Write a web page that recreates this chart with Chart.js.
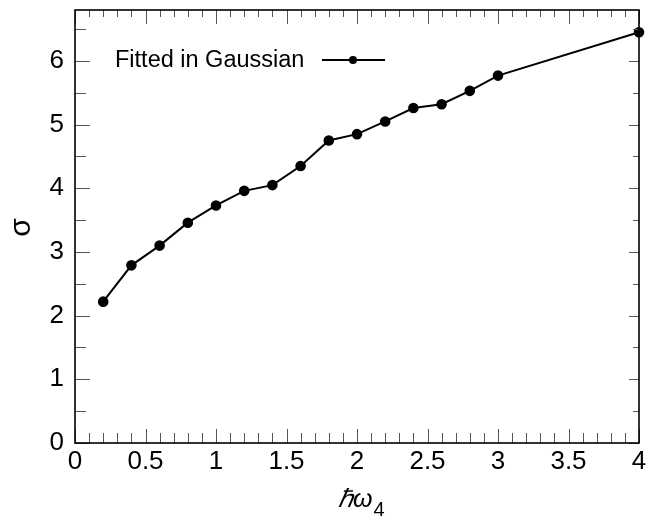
<!DOCTYPE html>
<html><head><meta charset="utf-8">
<script src="https://cdn.jsdelivr.net/npm/chart.js@4"></script>
<style>html,body{margin:0;padding:0;background:#fff}</style>
</head><body>
<canvas id="c" width="649" height="519" style="width:649px;height:519px;display:block"></canvas>
<script>
const xValues = [0.2, 0.4, 0.6, 0.8, 1.0, 1.2, 1.4, 1.6, 1.8, 2.0, 2.2, 2.4, 2.6, 2.8, 3.0, 4.0];
const sigmaValues = [2.22, 2.79, 3.10, 3.46, 3.73, 3.96, 4.05, 4.35, 4.75, 4.85, 5.05, 5.26, 5.32, 5.53, 5.77, 6.45];
const xTickLabels = ['0', '0.5', '1', '1.5', '2', '2.5', '3', '3.5', '4'];
const yTickLabels = ['0', '1', '2', '3', '4', '5', '6'];
const seriesName = 'Fitted in Gaussian';
const xTitleMain = 'ℏω';
const xTitleSub = '4';
const yTitle = 'σ';

const FONT = '"Liberation Sans", Arial, Helvetica, sans-serif';

const framePlugin = {
  id: 'frame',
  afterDatasetsDraw(chart) {
    const ctx = chart.ctx, a = chart.chartArea;
    const xs = chart.scales.x, ys = chart.scales.y;
    ctx.save();
    ctx.strokeStyle = '#555';
    ctx.lineWidth = 1;
    for (let i = 0; i <= 40; i++) {
      const v = i / 10;
      const px = Math.round(xs.getPixelForValue(v)) + 0.5;
      const major = i % 5 === 0;
      const lb = major ? 14 : 10, lt = major ? 14 : 7;
      ctx.beginPath();
      ctx.moveTo(px, a.bottom); ctx.lineTo(px, a.bottom - lb);
      ctx.moveTo(px, a.top); ctx.lineTo(px, a.top + lt);
      ctx.stroke();
    }
    for (let i = 0; i <= 13; i++) {
      const v = i / 2;
      const py = Math.round(ys.getPixelForValue(v)) + 0.5;
      const major = i % 2 === 0;
      const ll = major ? 15 : 11, lr = major ? 10 : 6;
      ctx.beginPath();
      ctx.moveTo(a.left, py); ctx.lineTo(a.left + ll, py);
      ctx.moveTo(a.right, py); ctx.lineTo(a.right - lr, py);
      ctx.stroke();
    }
    ctx.strokeStyle = '#000';
    ctx.lineWidth = 1.6;
    ctx.strokeRect(a.left, a.top, a.right - a.left, a.bottom - a.top);

    // legend
    const ly = ys.getPixelForValue(6) - 1;
    ctx.fillStyle = '#000';
    ctx.font = '23.5px ' + FONT;
    ctx.textBaseline = 'middle';
    ctx.textAlign = 'left';
    ctx.fillText(seriesName, a.left + 40, ly + 1);
    ctx.lineWidth = 2;
    ctx.beginPath();
    ctx.moveTo(a.left + 247, ly); ctx.lineTo(a.left + 310, ly);
    ctx.stroke();
    ctx.beginPath();
    ctx.arc(a.left + 278, ly, 4, 0, Math.PI * 2);
    ctx.fill();

    // axis titles
    ctx.textBaseline = 'alphabetic';
    ctx.font = 'italic 25px ' + FONT;
    const mx = 338, my = 507;
    ctx.fillText(xTitleMain, mx, my);
    const w = ctx.measureText(xTitleMain).width;
    ctx.font = '20px ' + FONT;
    ctx.fillText(xTitleSub, mx + w + 1, my + 9);

    ctx.translate(30, 227.5);
    ctx.rotate(-Math.PI / 2);
    ctx.textAlign = 'center';
    ctx.font = '30px ' + FONT;
    ctx.fillText(yTitle, 0, 0);
    ctx.restore();
  }
};

new Chart(document.getElementById('c'), {
  type: 'line',
  data: {
    datasets: [{
      label: seriesName,
      data: xValues.map((x, i) => ({ x: x, y: sigmaValues[i] })),
      borderColor: '#000',
      backgroundColor: '#000',
      borderWidth: 2,
      pointRadius: 4.3,
      pointHoverRadius: 4.3,
      tension: 0,
      clip: false
    }]
  },
  options: {
    responsive: false,
    animation: false,
    devicePixelRatio: 1,
    layout: { padding: { left: 0, right: 10, top: 10, bottom: 0 } },
    plugins: { legend: { display: false }, tooltip: { enabled: false } },
    scales: {
      x: {
        type: 'linear', min: 0, max: 4,
        grid: { display: false, drawTicks: false },
        border: { display: false },
        ticks: {
          stepSize: 0.5, includeBounds: false, padding: 3, color: '#000',
          font: { family: FONT, size: 26 },
          maxRotation: 0, autoSkip: false,
          callback: (v) => xTickLabels[Math.round(v * 2)] ?? ''
        },
        afterFit: (s) => { s.height = 76; s.paddingLeft = 0; s.paddingRight = 0; }
      },
      y: {
        type: 'linear', min: 0, max: 6.8,
        grid: { display: false, drawTicks: false },
        border: { display: false },
        ticks: {
          stepSize: 1, includeBounds: false, padding: 11, color: '#000',
          font: { family: FONT, size: 26 },
          callback: (v) => yTickLabels[Math.round(v)] ?? ''
        },
        afterFit: (s) => { s.width = 75; s.paddingTop = 0; s.paddingBottom = 0; }
      }
    }
  },
  plugins: [framePlugin]
});
</script>
</body></html>
